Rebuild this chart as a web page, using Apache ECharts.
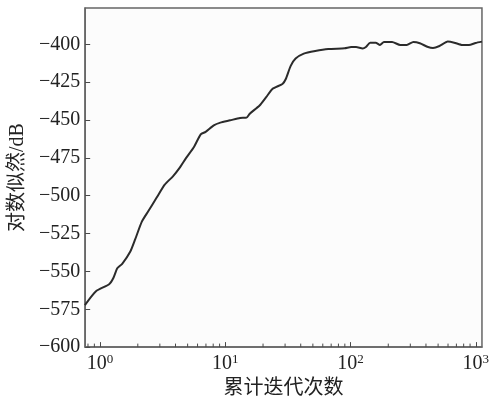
<!DOCTYPE html>
<html>
<head>
<meta charset="utf-8">
<script src="https://cdn.jsdelivr.net/npm/echarts@6/dist/echarts.min.js"></script>
<style>
  html, body { margin: 0; padding: 0; background: #ffffff; }
  #chart { width: 492px; height: 404px; }
</style>
</head>
<body>
<div id="chart"></div>
<script>
// Cumulative iterations (log scale) and log-likelihood in dB
const iterations = [
  0.756, 0.927, 1.181, 1.276, 1.371, 1.501, 1.743, 1.908, 2.154, 2.43, 2.822,
  3.28, 3.815, 4.298, 4.85, 5.634, 6.359, 6.959, 8.082, 9.12, 10.92, 13.09,
  14.77, 15.67, 18.77, 21.18, 23.86, 28.58, 30.39, 33.26, 36.4, 42.29, 52.24,
  66.41, 89.75, 101.1, 110.6, 124.9, 132.6, 143.4, 158.7, 171.8, 184.7, 214.6,
  249.2, 281.2, 317.4, 357.5, 415.9, 455.3, 512.9, 597.0, 672.4, 782.3, 881.4,
  994.7, 1120
];
const logLikelihood = [
  -572.3, -563.1, -558.5, -554.4, -547.9, -545.0, -536.9, -528.7, -517.1, -510.1, -501.4,
  -492.7, -487.2, -481.8, -475.2, -467.6, -459.5, -457.8, -453.5, -451.7, -450.2, -448.6,
  -448.4, -445.8, -440.4, -434.9, -429.4, -426.2, -422.9, -414.2, -409.4, -406.1, -404.4,
  -403.1, -402.6, -401.8, -401.8, -402.8, -401.8, -398.9, -398.9, -400.4, -398.5, -398.5,
  -400.4, -400.4, -398.5, -399.3, -401.8, -402.4, -401.1, -398.2, -398.9, -400.5, -400.5,
  -399.1, -398.2
];
const yTicks = { min: -600, max: -376, step: 25 };
const xRange = { min: 0.76, max: 1120 };
// Minor tick values of the log axis (2..9 within each decade)
const xMinorTicks = [
  0.8, 0.9,
  2, 3, 4, 5, 6, 7, 8, 9,
  20, 30, 40, 50, 60, 70, 80, 90,
  200, 300, 400, 500, 600, 700, 800, 900
];
const xName = '累计迭代次数';
const yName = '对数似然/dB';

const serif = "'Liberation Serif', 'Noto Sans CJK SC', serif";
const axisColor = '#666';
const tickColor = '#4a4a4a';

const chart = echarts.init(document.getElementById('chart'), null, { renderer: 'canvas' });
chart.setOption({
  animation: false,
  backgroundColor: '#ffffff',
  grid: {
    left: 82, right: 5, top: 8, bottom: 53,
    show: true, borderColor: axisColor, borderWidth: 1.5, backgroundColor: '#fcfcfc'
  },
  xAxis: {
    type: 'log',
    logBase: 10,
    min: xRange.min,
    max: xRange.max,
    name: xName,
    nameLocation: 'middle',
    nameGap: 28,
    nameTextStyle: { fontFamily: serif, fontSize: 20, color: '#222' },
    axisLine: { show: true, lineStyle: { color: axisColor, width: 1.5 } },
    axisTick: { show: true, inside: true, length: 5, lineStyle: { color: tickColor, width: 1 } },
    splitLine: { show: false },
    axisLabel: {
      showMinLabel: false,
      showMaxLabel: false,
      margin: 6,
      color: '#222',
      fontFamily: serif,
      fontSize: 20,
      formatter: function (v) {
        const p = Math.log10(v);
        const r = Math.round(p);
        if (Math.abs(p - r) > 1e-6) return '';
        return '10{s|' + r + '}';
      },
      rich: {
        s: { fontFamily: serif, fontSize: 13, color: '#222', padding: [0, 0, 9, 0] }
      }
    }
  },
  yAxis: {
    type: 'value',
    min: yTicks.min,
    max: yTicks.max,
    interval: yTicks.step,
    name: yName,
    nameLocation: 'middle',
    nameGap: 55,
    nameTextStyle: { fontFamily: serif, fontSize: 20, color: '#222' },
    axisLine: { show: true, lineStyle: { color: axisColor, width: 1.5 } },
    axisTick: { show: true, inside: true, length: 5, lineStyle: { color: tickColor, width: 1 } },
    splitLine: { show: false },
    axisLabel: {
      showMaxLabel: false,
      margin: 5,
      color: '#222',
      fontFamily: serif,
      fontSize: 20,
      formatter: function (v) { return String(v).replace('-', '\u2212'); }
    }
  },
  series: [
    {
      type: 'line',
      data: iterations.map(function (x, i) { return [x, logLikelihood[i]]; }),
      showSymbol: false,
      smooth: 0.2,
      lineStyle: { color: '#2b2b2b', width: 2 },
      clip: true
    },
    {
      // short inward minor ticks along the bottom axis
      type: 'custom',
      silent: true,
      clip: false,
      z: 5,
      data: xMinorTicks.map(function (v) { return [v, yTicks.min]; }),
      renderItem: function (params, api) {
        const p = api.coord([api.value(0), api.value(1)]);
        return {
          type: 'line',
          shape: { x1: p[0], y1: p[1], x2: p[0], y2: p[1] - 3.5 },
          style: { stroke: tickColor, lineWidth: 1 }
        };
      }
    }
  ]
});
</script>
</body>
</html>
